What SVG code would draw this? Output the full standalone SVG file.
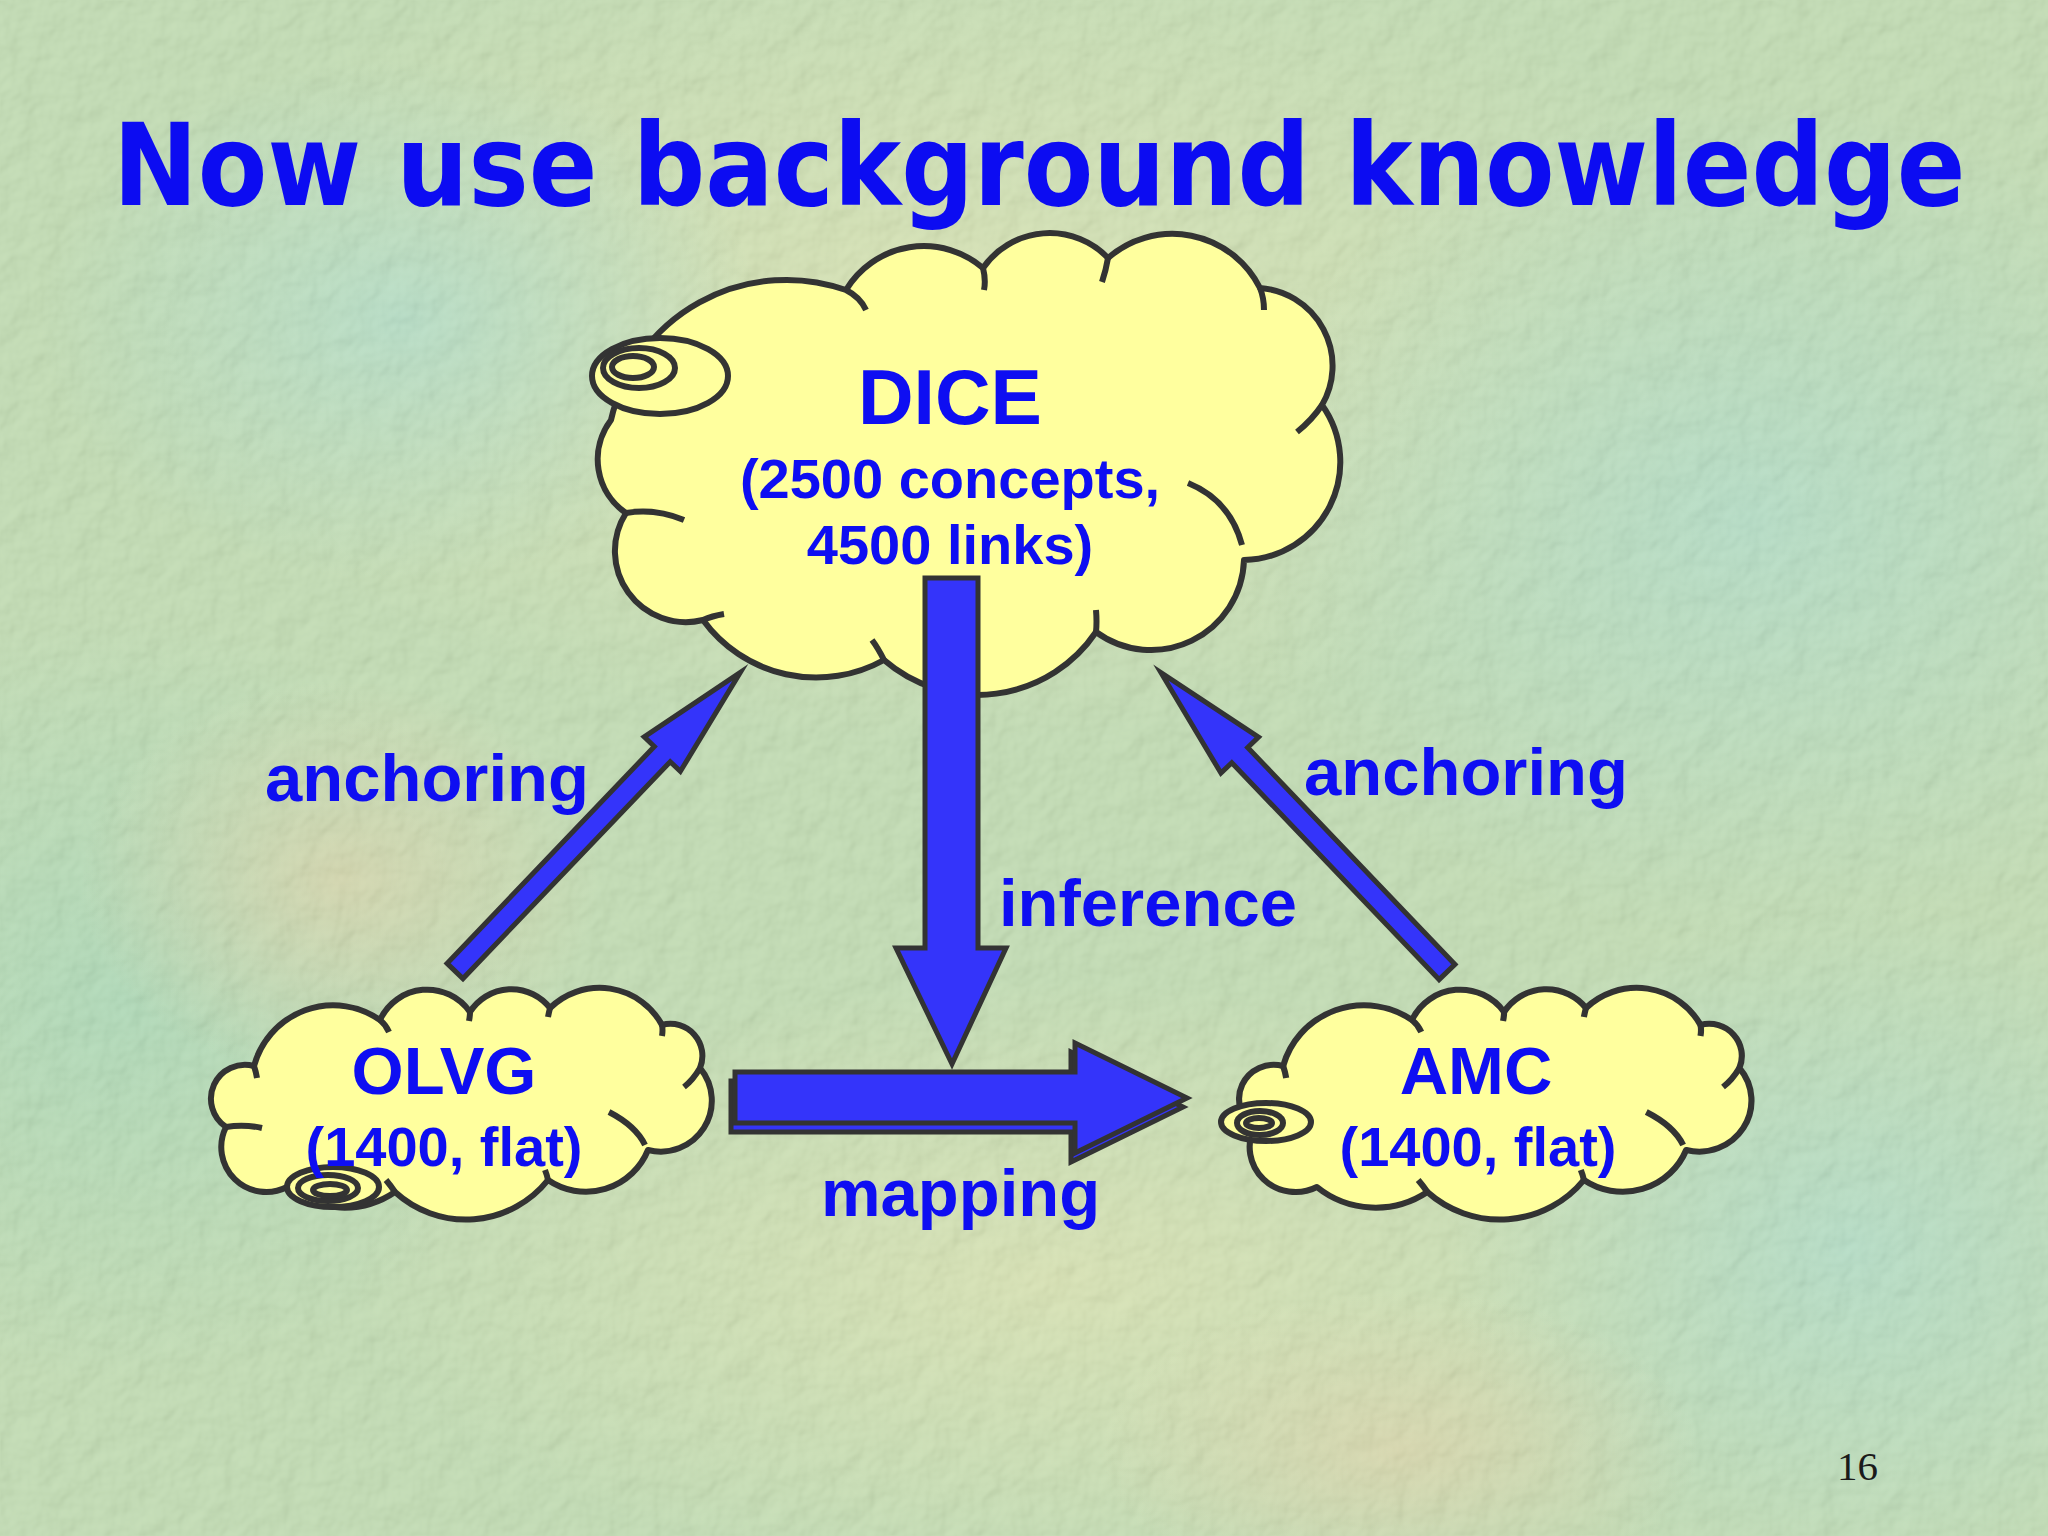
<svg xmlns="http://www.w3.org/2000/svg" width="2048" height="1536" viewBox="0 0 2048 1536">
<defs>
<style>
.cloud{fill:#FFFF9E;stroke:#333333;stroke-width:6;stroke-linejoin:round}
.inner{fill:none;stroke:#333333;stroke-width:6;stroke-linecap:butt}
.bub{fill:#FFFF9E;stroke:#333333;stroke-width:6}
.arrow{fill:#3434FA;stroke:#333333;stroke-width:5;stroke-linejoin:miter;stroke-miterlimit:10}
.t{font-family:"Liberation Sans",Arial,sans-serif;font-weight:bold;fill:#0E0EF2}
.title{font-family:"DejaVu Sans",Verdana,sans-serif;font-weight:bold;fill:#0C0CF2}
</style>
<radialGradient id="g1"><stop offset="0" stop-color="#D6DFA8" stop-opacity="0.85"/><stop offset="1" stop-color="#D6DFA8" stop-opacity="0"/></radialGradient>
<radialGradient id="g2"><stop offset="0" stop-color="#A6D8C2" stop-opacity="0.8"/><stop offset="1" stop-color="#A6D8C2" stop-opacity="0"/></radialGradient>
<radialGradient id="g3"><stop offset="0" stop-color="#D9CE9E" stop-opacity="0.7"/><stop offset="1" stop-color="#D9CE9E" stop-opacity="0"/></radialGradient>
<radialGradient id="g4"><stop offset="0" stop-color="#9ED3AE" stop-opacity="0.8"/><stop offset="1" stop-color="#9ED3AE" stop-opacity="0"/></radialGradient>
<filter id="tex" x="0" y="0" width="100%" height="100%">
<feTurbulence type="fractalNoise" baseFrequency="0.035" numOctaves="3" seed="7" result="n"/>
<feDiffuseLighting in="n" surfaceScale="4" lighting-color="#ffffff" diffuseConstant="1"><feDistantLight azimuth="225" elevation="55"/></feDiffuseLighting>
</filter>
</defs>
<g id="background">
<rect width="2048" height="1536" fill="#B9D7A8"/>
<ellipse cx="950" cy="320" rx="800" ry="420" fill="url(#g1)"/>
<ellipse cx="1750" cy="520" rx="520" ry="420" fill="url(#g2)"/>
<ellipse cx="120" cy="1000" rx="420" ry="380" fill="url(#g4)"/>
<ellipse cx="340" cy="880" rx="260" ry="200" fill="url(#g3)"/>
<ellipse cx="1050" cy="1280" rx="700" ry="300" fill="url(#g1)"/>
<ellipse cx="1850" cy="1250" rx="400" ry="350" fill="url(#g2)"/>
<ellipse cx="400" cy="320" rx="360" ry="260" fill="url(#g2)"/>
<ellipse cx="1400" cy="1450" rx="300" ry="160" fill="url(#g3)"/>
<rect width="2048" height="1536" filter="url(#tex)" opacity="0.2"/>
</g>
<text class="title" transform="translate(113 205) scale(0.889 1)" x="0" y="0" font-size="114">Now use background knowledge</text>
<g id="node-dice">
<path class="cloud" d="M 611 420 A 180 180 0 0 1 846 290 A 91 91 0 0 1 983 268 A 81 81 0 0 1 1108 258 A 98 98 0 0 1 1260 288 A 78 78 0 0 1 1322 405 A 98 98 0 0 1 1244 560 A 93 93 0 0 1 1096 632 A 143 143 0 0 1 884 660 A 140 140 0 0 1 703 620 A 71 71 0 0 1 626 513 A 65 65 0 0 1 611 420 Z"/>
<path class="inner" d="M 846 290 Q 860 297 866 310 M 983 268 Q 986 280 984 290 M 1108 258 Q 1106 270 1102 282 M 1260 288 Q 1264 298 1264 310 M 1322 405 Q 1312 420 1297 432 M 1188 483 Q 1230 500 1242 545 M 1096 632 Q 1097 622 1096 610 M 884 660 Q 878 648 872 640 M 703 620 Q 712 616 724 614 M 626 513 Q 655 508 684 520"/>
<ellipse class="bub" cx="660" cy="376" rx="68" ry="38"/>
<ellipse class="bub" cx="639" cy="368" rx="36" ry="20"/>
<ellipse class="bub" cx="633" cy="367" rx="21" ry="11"/>
<text class="t" x="950" y="424" font-size="77" text-anchor="middle">DICE</text>
<text class="t" x="950" y="498" font-size="56" text-anchor="middle">(2500 concepts,</text>
<text class="t" x="950" y="564" font-size="56" text-anchor="middle">4500 links)</text>
</g>
<g id="node-olvg">
<path class="cloud" d="M 254 1066 A 82 82 0 0 1 380 1020 A 52 52 0 0 1 470 1012 A 49 49 0 0 1 550 1008 A 71 71 0 0 1 662 1025 A 32 32 0 0 1 700 1068 A 51 51 0 0 1 648 1150 A 67 67 0 0 1 548 1180 A 105 105 0 0 1 395 1192 A 90 90 0 0 1 287 1187 A 45 45 0 0 1 226 1127 A 34 34 0 0 1 254 1066 Z"/>
<path class="inner" d="M 254 1066 Q 256 1072 257 1078 M 380 1020 Q 386 1025 389 1032 M 470 1012 Q 470 1016 469 1021 M 550 1008 Q 549 1012 548 1017 M 662 1025 Q 663 1030 662 1036 M 700 1068 Q 693 1080 684 1087 M 609 1112 Q 636 1126 645 1145 M 548 1180 Q 547 1175 545 1170 M 395 1192 Q 391 1186 386 1180 M 226 1127 Q 244 1124 262 1128"/>
<ellipse class="bub" cx="333" cy="1187" rx="46" ry="20"/>
<ellipse class="bub" cx="328" cy="1188" rx="30" ry="13"/>
<ellipse class="bub" cx="330" cy="1190" rx="17" ry="6"/>
<text class="t" x="444" y="1094" font-size="67" text-anchor="middle">OLVG</text>
<text class="t" x="444" y="1166" font-size="56" text-anchor="middle">(1400, flat)</text>
</g>
<g id="node-amc">
<path class="cloud" transform="translate(1233 0) scale(1.023 1) translate(-205 0)" d="M 254 1066 A 82 82 0 0 1 380 1020 A 52 52 0 0 1 470 1012 A 49 49 0 0 1 550 1008 A 71 71 0 0 1 662 1025 A 32 32 0 0 1 700 1068 A 51 51 0 0 1 648 1150 A 67 67 0 0 1 548 1180 A 105 105 0 0 1 395 1192 A 90 90 0 0 1 287 1187 A 45 45 0 0 1 226 1127 A 34 34 0 0 1 254 1066 Z"/>
<path class="inner" transform="translate(1233 0) scale(1.023 1) translate(-205 0)" d="M 254 1066 Q 256 1072 257 1078 M 380 1020 Q 386 1025 389 1032 M 470 1012 Q 470 1016 469 1021 M 550 1008 Q 549 1012 548 1017 M 662 1025 Q 663 1030 662 1036 M 700 1068 Q 693 1080 684 1087 M 609 1112 Q 636 1126 645 1145 M 548 1180 Q 547 1175 545 1170 M 395 1192 Q 391 1186 386 1180 M 226 1127 Q 244 1124 262 1128"/>
<ellipse class="bub" cx="1266" cy="1122" rx="45" ry="19"/>
<ellipse class="bub" cx="1260" cy="1123" rx="23" ry="12"/>
<ellipse class="bub" cx="1259" cy="1123" rx="13" ry="5"/>
<text class="t" x="1476" y="1094" font-size="67" text-anchor="middle">AMC</text>
<text class="t" x="1478" y="1166" font-size="56" text-anchor="middle">(1400, flat)</text>
</g>
<g id="connectors">
<polygon class="arrow" transform="translate(-4 9)" points="735,1072 1075,1072 1075,1043 1187,1098 1075,1153 1075,1123 735,1123"/>
<polygon class="arrow" points="735,1072 1075,1072 1075,1043 1187,1098 1075,1153 1075,1123 735,1123"/>
<polygon class="arrow" points="925,578 978,578 978,948 1006,948 952,1064 896,948 925,948"/>
<polygon class="arrow" transform="translate(455 971) rotate(-46.3)" points="0,-11 300,-11 300,-25 413,0 300,25 300,11 0,11"/>
<polygon class="arrow" transform="translate(1447 972) rotate(-133.7)" points="0,-11 300,-11 300,-26 414,0 300,26 300,11 0,11"/>
</g>
<g id="labels">
<text class="t" x="265" y="801" font-size="67">anchoring</text>
<text class="t" x="1304" y="795" font-size="67">anchoring</text>
<text class="t" x="999" y="926" font-size="67">inference</text>
<text class="t" x="821" y="1216" font-size="67">mapping</text>
</g>
<text x="1837" y="1480" font-family="'Liberation Serif','Times New Roman',serif" font-size="41" fill="#1A1A1A">16</text>
</svg>
